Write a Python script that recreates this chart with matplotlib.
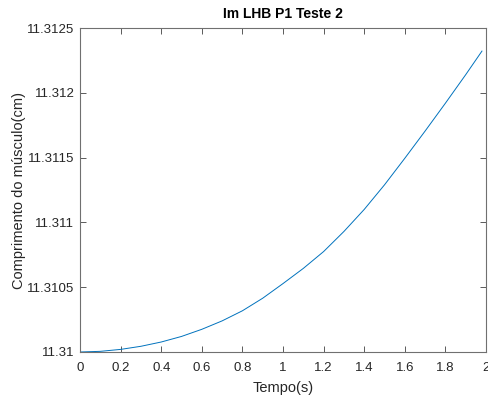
import matplotlib
matplotlib.use("Agg")
import matplotlib.pyplot as plt
from matplotlib.ticker import FuncFormatter

# values
tempo = [0.0, 0.1, 0.2, 0.3, 0.4, 0.5, 0.6, 0.7, 0.8, 0.9, 1.0,
         1.1, 1.2, 1.3, 1.4, 1.5, 1.6, 1.7, 1.8, 1.9, 1.98]
delta = [0.0, 0.000005, 0.000020, 0.000044, 0.000077, 0.000120, 0.000175,
         0.000240, 0.000318, 0.000415, 0.000528, 0.000645, 0.000775,
         0.000930, 0.001100, 0.001290, 0.001495, 0.001705, 0.001920,
         0.002140, 0.002322]
base = 11.31
comprimento = [base + d for d in delta]

x_ticks = [0, 0.2, 0.4, 0.6, 0.8, 1, 1.2, 1.4, 1.6, 1.8, 2]
y_ticks = [11.31, 11.3105, 11.311, 11.3115, 11.312, 11.3125]

plt.rcParams['font.family'] = ['Liberation Sans', 'DejaVu Sans']

fig = plt.figure(figsize=(4.89, 3.98), dpi=100)
ax = fig.add_axes([0.1636, 0.1156, 0.8303, 0.8140])

ax.plot(tempo, comprimento, color='#0072BD', linewidth=0.7)

ax.set_xlim(0, 2)
ax.set_ylim(11.31, 11.3125)
ax.set_xticks(x_ticks)
ax.set_yticks(y_ticks)


def fmt(v, pos):
    return f'{v:.4f}'.rstrip('0').rstrip('.')


ax.xaxis.set_major_formatter(FuncFormatter(fmt))
ax.yaxis.set_major_formatter(FuncFormatter(fmt))

gray = '#262626'
for sp in ax.spines.values():
    sp.set_color('#707070')
    sp.set_linewidth(0.8)
ax.tick_params(direction='in', length=4, width=0.6, colors='#404040',
               labelsize=9.5, top=True, right=True)
ax.tick_params(axis='x', pad=7)
ax.tick_params(axis='y', pad=4)
for lab in ax.get_xticklabels() + ax.get_yticklabels():
    lab.set_color(gray)

ax.set_title('Im LHB P1 Teste 2', fontsize=10, fontweight='bold', pad=7)
ax.set_xlabel('Tempo(s)', fontsize=10.5, color=gray, labelpad=5)
ax.set_ylabel('Comprimento do músculo(cm)', fontsize=10.5, color=gray, labelpad=1)

fig.savefig('out.png', dpi=100)
